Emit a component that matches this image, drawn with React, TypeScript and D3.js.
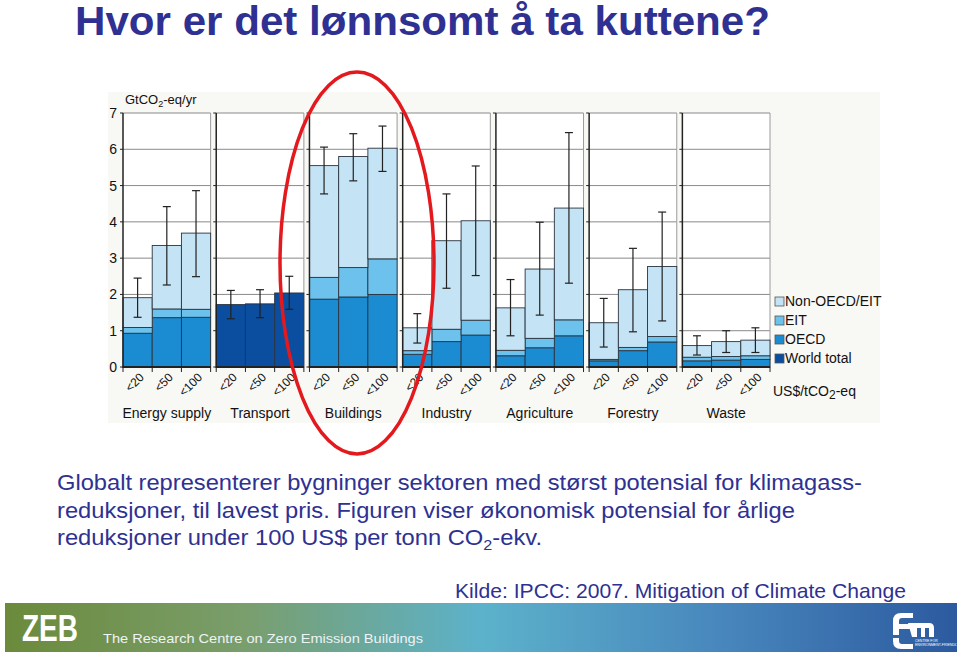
import React from "react";
import * as d3 from "d3";

// sectors and price levels (US$/tCO2-eq)
const sectors = ["Energy supply", "Transport", "Buildings", "Industry", "Agriculture", "Forestry", "Waste"];
const priceLevels = ["<20", "<50", "<100"];

// GtCO2-eq/yr, one row per sector, one value per price level
const worldTotal = [[0, 0, 0], [1.72, 1.74, 2.04], [0, 0, 0], [0, 0, 0], [0, 0, 0], [0, 0, 0], [0, 0, 0]];
const oecd = [[0.93, 1.36, 1.37], [0, 0, 0], [1.87, 1.93, 2.0], [0.35, 0.7, 0.88], [0.31, 0.53, 0.86], [0.17, 0.45, 0.69], [0.17, 0.19, 0.21]];
const eit = [[0.16, 0.24, 0.22], [0, 0, 0], [0.6, 0.81, 0.98], [0.1, 0.34, 0.41], [0.15, 0.26, 0.44], [0.04, 0.09, 0.15], [0.1, 0.1, 0.1]];
const nonOecd = [[0.82, 1.75, 2.1], [0, 0, 0], [3.08, 3.06, 3.05], [0.63, 2.44, 2.74], [1.17, 1.91, 3.08], [1.01, 1.59, 1.93], [0.32, 0.41, 0.43]];
const errLow = [[1.37, 2.26, 2.49], [1.33, 1.36, 1.59], [4.77, 5.13, 5.39], [0.66, 2.17, 2.52], [0.86, 1.43, 2.31], [0.55, 0.97, 1.27], [0.33, 0.4, 0.4]];
const errHigh = [[2.45, 4.42, 4.86], [2.11, 2.13, 2.5], [6.06, 6.43, 6.64], [1.47, 4.77, 5.54], [2.41, 3.99, 6.46], [1.89, 3.27, 4.27], [0.86, 1.0, 1.08]];
const yTicks = [0, 1, 2, 3, 4, 5, 6, 7];

const seriesKeys = ["worldTotal", "oecd", "eit", "nonOecd"];
const legendItems = [
  { key: "nonOecd", label: "Non-OECD/EIT" },
  { key: "eit", label: "EIT" },
  { key: "oecd", label: "OECD" },
  { key: "worldTotal", label: "World total" },
];
const colors: Record<string, string> = {
  nonOecd: "#c4e3f4",
  eit: "#6cc2ec",
  oecd: "#1b8bd2",
  worldTotal: "#0b4d9e",
};

const navy = "#2e3192";
const font = "Arial, 'Liberation Sans', sans-serif";

const App: React.FC = () => {
  const x = d3.scaleBand<string>().domain(sectors).range([123, 770]).paddingInner(0.06);
  const xi = d3.scaleBand<string>().domain(priceLevels).range([0, x.bandwidth()]);
  const y = d3.scaleLinear().domain([0, 7]).range([367, 113]);

  // flat rows for stacking
  const rows = sectors.flatMap((s, si) =>
    priceLevels.map((p, pi) => ({
      sector: s,
      price: p,
      si,
      pi,
      worldTotal: worldTotal[si][pi],
      oecd: oecd[si][pi],
      eit: eit[si][pi],
      nonOecd: nonOecd[si][pi],
    }))
  );
  const stacked = d3.stack<any>().keys(seriesKeys)(rows);

  return (
    <svg width={959} height={655} style={{ display: "block", position: "absolute", left: 0, top: 0 }}>
      <defs>
        <linearGradient id="footer" x1="0" x2="1" y1="0" y2="0">
          <stop offset="0" stopColor="#6b8a3b" />
          <stop offset="0.25" stopColor="#7a9e6c" />
          <stop offset="0.5" stopColor="#5cb2cb" />
          <stop offset="0.75" stopColor="#4887bd" />
          <stop offset="1" stopColor="#2c5a9f" />
        </linearGradient>
      </defs>
      <rect width={959} height={655} fill="#fff" />

      {/* title */}
      <text x={75} y={35} fontFamily={font} fontWeight="bold" fontSize={40} fill={navy} textLength={695} lengthAdjust="spacingAndGlyphs">
        Hvor er det lønnsomt å ta kuttene?
      </text>

      {/* chart background */}
      <rect x={108} y={92} width={772} height={331} fill="#f8f8f5" />

      {/* panels */}
      {sectors.map((s) => {
        const x0 = x(s)!;
        const w = x.bandwidth();
        return (
          <g key={s}>
            <rect x={x0} y={y(7)} width={w} height={y(0) - y(7)} fill="#fff" />
            {yTicks.slice(1).map((t) => (
              <line key={t} x1={x0} x2={x0 + w} y1={y(t)} y2={y(t)} stroke="#8a8a8a" strokeWidth={1} />
            ))}
            <line x1={x0 + w} x2={x0 + w} y1={y(7)} y2={y(0)} stroke="#9a9a9a" strokeWidth={1} />
          </g>
        );
      })}

      {/* stacked bars */}
      {stacked.map((layer) =>
        layer.map((d: any) => {
          const r = d.data;
          if (d[1] - d[0] <= 0) return null;
          const bx = x(r.sector)! + xi(r.price)!;
          return (
            <rect
              key={layer.key + r.sector + r.price}
              x={bx}
              y={y(d[1])}
              width={xi.bandwidth()}
              height={y(d[0]) - y(d[1])}
              fill={colors[layer.key]}
              stroke="#2a3440"
              strokeWidth={0.9}
            />
          );
        })
      )}

      {/* error bars */}
      {rows.map((r) => {
        const cx = x(r.sector)! + xi(r.price)! + xi.bandwidth() / 2;
        const lo = y(errLow[r.si][r.pi]);
        const hi = y(errHigh[r.si][r.pi]);
        return (
          <g key={"e" + r.sector + r.price} stroke="#222" strokeWidth={1.2}>
            <line x1={cx} x2={cx} y1={hi} y2={lo} />
            <line x1={cx - 4} x2={cx + 4} y1={hi} y2={hi} />
            <line x1={cx - 4} x2={cx + 4} y1={lo} y2={lo} />
          </g>
        );
      })}

      {/* panel axes */}
      {sectors.map((s) => {
        const x0 = x(s)!;
        const w = x.bandwidth();
        return (
          <g key={"ax" + s} stroke="#222">
            <line x1={x0} x2={x0} y1={y(7)} y2={y(0) + 1} strokeWidth={1.5} />
            <line x1={x0} x2={x0 + w} y1={y(0)} y2={y(0)} strokeWidth={2} />
            {[0, 1, 2, 3].map((k) => (
              <line key={k} x1={x0 + (k * w) / 3} x2={x0 + (k * w) / 3} y1={y(0)} y2={y(0) + 5} strokeWidth={1} />
            ))}
            {yTicks.map((t) => (
              <line key={t} x1={x0 - 3} x2={x0} y1={y(t)} y2={y(t)} strokeWidth={1} />
            ))}
          </g>
        );
      })}

      {/* price labels */}
      {rows.map((r) => {
        const cx = x(r.sector)! + xi(r.price)! + xi.bandwidth() / 2;
        const ty = y(0) + 11;
        return (
          <text
            key={"p" + r.sector + r.price}
            x={cx + 7}
            y={ty}
            transform={`rotate(-45 ${cx + 7} ${ty})`}
            textAnchor="end"
            fontFamily={font}
            fontSize={12}
            fill="#111"
          >
            {r.price}
          </text>
        );
      })}

      {/* sector labels */}
      {sectors.map((s) => (
        <text key={"s" + s} x={x(s)! + x.bandwidth() / 2} y={418} textAnchor="middle" fontFamily={font} fontSize={14} fill="#111">
          {s}
        </text>
      ))}

      {/* y axis labels */}
      {yTicks.map((t) => (
        <text key={"y" + t} x={117} y={y(t) + 5} textAnchor="end" fontFamily={font} fontSize={14} fill="#111">
          {t}
        </text>
      ))}
      <text x={125} y={104} fontFamily={font} fontSize={13} fill="#111">
        GtCO<tspan dy={3} fontSize={9}>2</tspan>
        <tspan dy={-3}>-eq/yr</tspan>
      </text>

      {/* legend */}
      {legendItems.map((it, i) => (
        <g key={it.key}>
          <rect x={775} y={297 + i * 19} width={9} height={9} fill={colors[it.key]} stroke="#555" strokeWidth={0.8} />
          <text x={785} y={306 + i * 19} fontFamily={font} fontSize={14} fill="#111">
            {it.label}
          </text>
        </g>
      ))}
      <text x={773} y={396} fontFamily={font} fontSize={14} fill="#111">
        US$/tCO<tspan dy={3} fontSize={12}>2</tspan>
        <tspan dy={-3}>-eq</tspan>
      </text>

      {/* highlight */}
      <ellipse cx={357} cy={263} rx={77} ry={191} fill="none" stroke="#e3191e" strokeWidth={3.5} />

      {/* body text */}
      <g fontFamily={font} fontSize={22} fill={navy}>
        <text x={57} y={490} textLength={805} lengthAdjust="spacingAndGlyphs">
          Globalt representerer bygninger sektoren med størst potensial for klimagass-
        </text>
        <text x={57} y={518} textLength={738} lengthAdjust="spacingAndGlyphs">
          reduksjoner, til lavest pris. Figuren viser økonomisk potensial for årlige
        </text>
        <text x={57} y={545} textLength={485} lengthAdjust="spacingAndGlyphs">
          reduksjoner under 100 US$ per tonn CO<tspan dy={5} fontSize={15}>2</tspan>
          <tspan dy={-5}>-ekv.</tspan>
        </text>
      </g>
      <text x={455} y={598} fontFamily={font} fontSize={21} fill={navy} textLength={451} lengthAdjust="spacingAndGlyphs">
        Kilde: IPCC: 2007. Mitigation of Climate Change
      </text>

      {/* footer */}
      <rect x={5} y={603} width={952} height={49} fill="url(#footer)" />
      <text x={22} y={641} fontFamily={font} fontWeight="bold" fontSize={36} fill="#fff" textLength={56} lengthAdjust="spacingAndGlyphs">
        ZEB
      </text>
      <text x={103} y={643} fontFamily={font} fontSize={13} fill="#eef3f6" textLength={320} lengthAdjust="spacingAndGlyphs">
        The Research Centre on Zero Emission Buildings
      </text>
      <g fill="#fff">
        <path d="M893 621 q0 -8 8 -8 h12 v5 h-11 q-3 0 -3 3 v3 h12 v5 h-12 v6 h-6 z" />
        <path d="M908 623 h21 q5 0 5 5 v9 h-5 v-9 h-4 v9 h-4 v-9 h-4 v9 h-5 z" />
        <path d="M893 638 h6 v3 q0 3 3 3 h11 v5 h-12 q-8 0 -8 -8 z" />
        <g fontFamily={font} fontSize={3.5}>
          <text x={915} y={642}>CENTRE FOR</text>
          <text x={915} y={646}>ENVIRONMENT-FRIENDLY</text>
        </g>
      </g>
    </svg>
  );
};

export default App;
